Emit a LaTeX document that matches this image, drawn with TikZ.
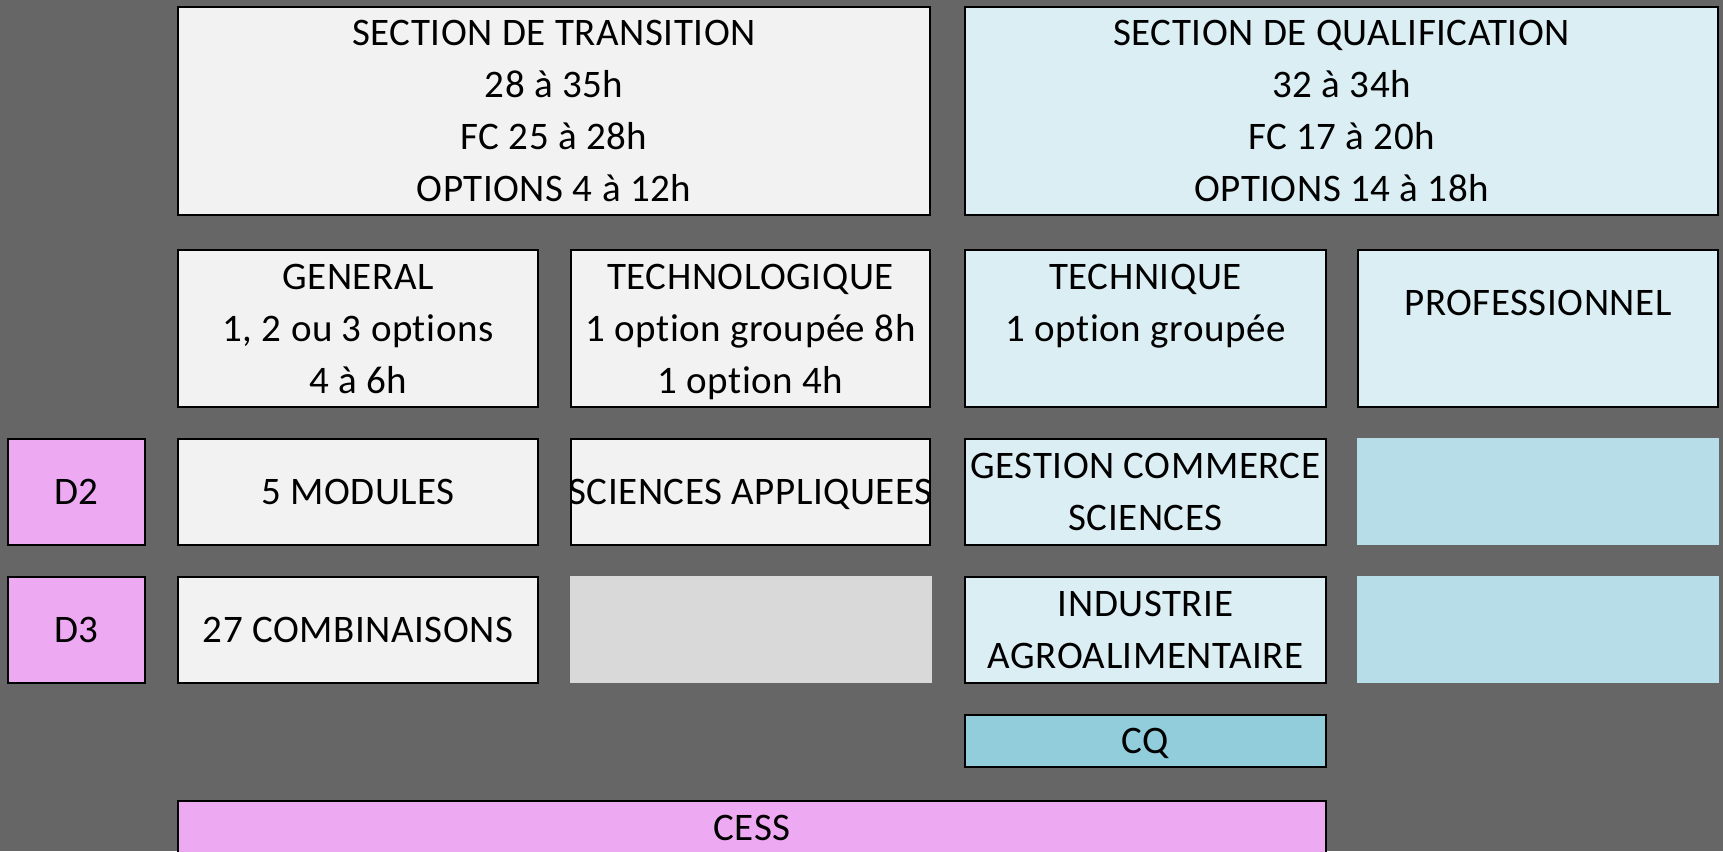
\documentclass[tikz,border=0pt]{standalone}
\usepackage{fontspec}
\setmainfont{Carlito}[LetterSpace=1.4, Ligatures=NoCommon]
\definecolor{bgc}{RGB}{102,102,102}
\definecolor{gryf}{RGB}{242,242,242}
\definecolor{bluf}{RGB}{218,238,243}
\definecolor{blud}{RGB}{183,222,232}
\definecolor{cqc}{RGB}{146,205,220}
\definecolor{pnk}{RGB}{237,169,242}
\definecolor{gryd}{RGB}{217,217,217}
\newcommand\lnst{\rule[-13.5pt]{0pt}{52pt}}
\begin{document}
\begin{tikzpicture}[x=1pt,y=-1pt,
  cell/.style={rectangle, draw=black, line width=2.5pt, inner sep=0pt, align=center,
    font={\fontsize{39}{52}\selectfont}},
  plain/.style={rectangle, draw=none, inner sep=0pt}]
\useasboundingbox (0,0) rectangle (1723,851);
\fill[bgc] (0,0) rectangle (1723,851);
% top row
\node[cell, fill=gryf, minimum width=752pt, minimum height=208pt] (trans) at (554,111)
  {\lnst SECTION DE TRANSITION\\\lnst 28 à 35h\\\lnst FC 25 à 28h\\\lnst OPTIONS 4 à 12h};
\node[cell, fill=bluf, minimum width=753pt, minimum height=208pt] (qual) at (1341.5,111)
  {\lnst SECTION DE QUALIFICATION\\\lnst 32 à 34h\\\lnst FC 17 à 20h\\\lnst OPTIONS 14 à 18h};
% second row
\node[cell, fill=gryf, minimum width=360pt, minimum height=157pt] (gen) at (358,328.5)
  {\lnst GENERAL\\\lnst 1, 2 ou 3 options\\\lnst 4 à 6h};
\node[cell, fill=gryf, minimum width=359pt, minimum height=157pt] (techno) at (750.5,328.5)
  {\lnst TECHNOLOGIQUE\\\lnst 1 option groupée 8h\\\lnst 1 option 4h};
\node[cell, fill=bluf, minimum width=361pt, minimum height=157pt] (techn) at (1145.5,328.5)
  {\lnst TECHNIQUE\\\lnst 1 option groupée\\\lnst};
\node[cell, fill=bluf, minimum width=360pt, minimum height=157pt] (prof) at (1538,328.5)
  {\lnst PROFESSIONNEL\\\lnst};
% third row
\node[cell, fill=pnk, minimum width=137pt, minimum height=106pt] (d2) at (76.5,492) {\lnst D2};
\node[cell, fill=gryf, minimum width=360pt, minimum height=106pt] (mod) at (358,492) {\lnst 5 MODULES};
\node[cell, fill=gryf, minimum width=359pt, minimum height=106pt,
  path picture={\node[font={\fontsize{39}{52}\selectfont}, inner sep=0pt] at (path picture bounding box.center) {\lnst SCIENCES APPLIQUEES};}]
  (sci) at (750.5,492) {};
\node[cell, fill=bluf, minimum width=361pt, minimum height=106pt] (gest) at (1145.5,492)
  {\lnst GESTION COMMERCE\\\lnst SCIENCES};
\node[plain, fill=blud, minimum width=362.5pt, minimum height=107pt] (pro3) at (1537.75,491.5) {};
% fourth row
\node[cell, fill=pnk, minimum width=137pt, minimum height=106pt] (d3) at (76.5,630) {\lnst D3};
\node[cell, fill=gryf, minimum width=360pt, minimum height=106pt] (comb) at (358,630) {\lnst 27 COMBINAISONS};
\node[plain, fill=gryd, minimum width=362pt, minimum height=107pt] (tech4) at (751,629.5) {};
\node[cell, fill=bluf, minimum width=361pt, minimum height=106pt] (ind) at (1145.5,630)
  {\lnst INDUSTRIE\\\lnst AGROALIMENTAIRE};
\node[plain, fill=blud, minimum width=362.5pt, minimum height=107pt] (pro4) at (1537.75,629.5) {};
% bottom
\node[cell, fill=cqc, minimum width=361pt, minimum height=52pt] (cq) at (1145.5,741) {\lnst CQ};
\node[cell, fill=pnk, minimum width=1148pt, minimum height=54pt] (cess) at (752,828) {\lnst CESS};
\end{tikzpicture}
\end{document}
